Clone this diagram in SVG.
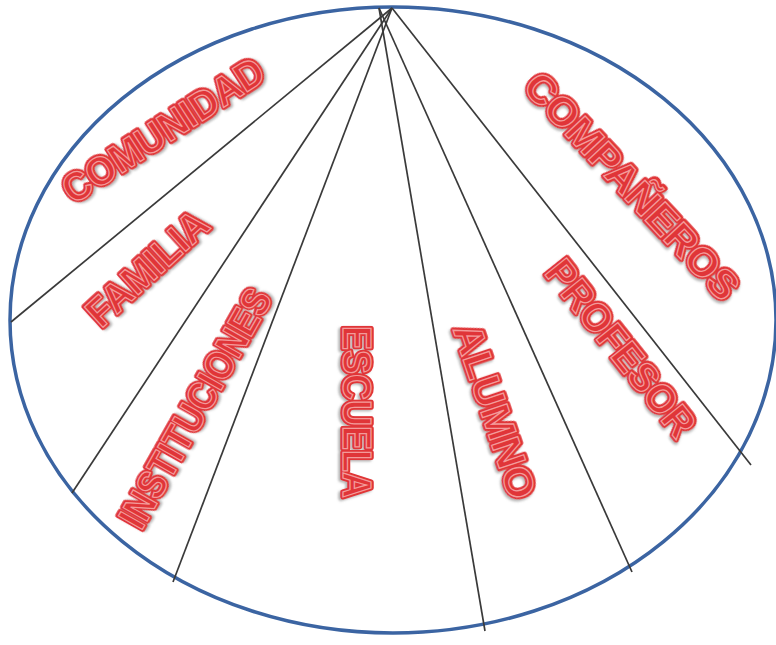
<svg xmlns="http://www.w3.org/2000/svg" width="776" height="645" viewBox="0 0 776 645">
<defs>
<style>
.ell{fill:none;stroke:#3b64a2;stroke-width:3.5}
.ln{stroke:#3a3a3a;stroke-width:1.7;fill:none}
.w{font-family:"Liberation Sans",Arial,sans-serif;font-weight:bold;font-size:40px;text-anchor:middle}
.outer{fill:#e03538;stroke:#e03538;stroke-width:5.5;stroke-linejoin:round;filter:url(#sh)}
.inner{fill:#e03538;stroke:#f39a9a;stroke-width:1.3}
</style>
<filter id="sh" x="-10%" y="-30%" width="120%" height="160%">
<feDropShadow dx="1.5" dy="2" stdDeviation="1.2" flood-color="#7a7a7a" flood-opacity="0.55"/>
</filter>
</defs>
<rect width="776" height="645" fill="#ffffff"/>
<g id="circle">
<ellipse class="ell" cx="393" cy="320" rx="383" ry="313"/>
</g>
<g id="connectors">
<line class="ln" x1="392" y1="8" x2="11" y2="322"/>
<line class="ln" x1="392" y1="8" x2="72" y2="493"/>
<line class="ln" x1="392" y1="8" x2="173" y2="582"/>
<line class="ln" x1="379" y1="8" x2="485" y2="631"/>
<line class="ln" x1="379" y1="8" x2="632" y2="572"/>
<line class="ln" x1="392" y1="8" x2="751" y2="465"/>
</g>
<g id="comunidad" transform="translate(163,130) rotate(-33)">
<text class="w outer" x="0" y="14" textLength="232" lengthAdjust="spacingAndGlyphs">COMUNIDAD</text>
<text class="w inner" x="0" y="14" textLength="232" lengthAdjust="spacingAndGlyphs">COMUNIDAD</text>
</g>
<g id="familia" transform="translate(147,268) rotate(-42.5)">
<text class="w outer" x="0" y="14" textLength="150" lengthAdjust="spacingAndGlyphs">FAMILIA</text>
<text class="w inner" x="0" y="14" textLength="150" lengthAdjust="spacingAndGlyphs">FAMILIA</text>
</g>
<g id="instituciones" transform="translate(195,408) rotate(-60.5)">
<text class="w outer" x="0" y="14" textLength="268" lengthAdjust="spacingAndGlyphs">INSTITUCIONES</text>
<text class="w inner" x="0" y="14" textLength="268" lengthAdjust="spacingAndGlyphs">INSTITUCIONES</text>
</g>
<g id="escuela" transform="translate(357,412) rotate(90)">
<text class="w outer" x="0" y="14" textLength="172" lengthAdjust="spacingAndGlyphs">ESCUELA</text>
<text class="w inner" x="0" y="14" textLength="172" lengthAdjust="spacingAndGlyphs">ESCUELA</text>
</g>
<g id="alumno" transform="translate(495,411) rotate(71.5)">
<text class="w outer" x="0" y="14" textLength="182" lengthAdjust="spacingAndGlyphs">ALUMNO</text>
<text class="w inner" x="0" y="14" textLength="182" lengthAdjust="spacingAndGlyphs">ALUMNO</text>
</g>
<g id="profesor" transform="translate(621,348) rotate(51.5)">
<text class="w outer" x="0" y="14" textLength="214" lengthAdjust="spacingAndGlyphs">PROFESOR</text>
<text class="w inner" x="0" y="14" textLength="214" lengthAdjust="spacingAndGlyphs">PROFESOR</text>
</g>
<g id="companeros" transform="translate(632,186) rotate(47)">
<text class="w outer" x="0" y="14" textLength="294" lengthAdjust="spacingAndGlyphs">COMPAÑEROS</text>
<text class="w inner" x="0" y="14" textLength="294" lengthAdjust="spacingAndGlyphs">COMPAÑEROS</text>
</g>
</svg>
